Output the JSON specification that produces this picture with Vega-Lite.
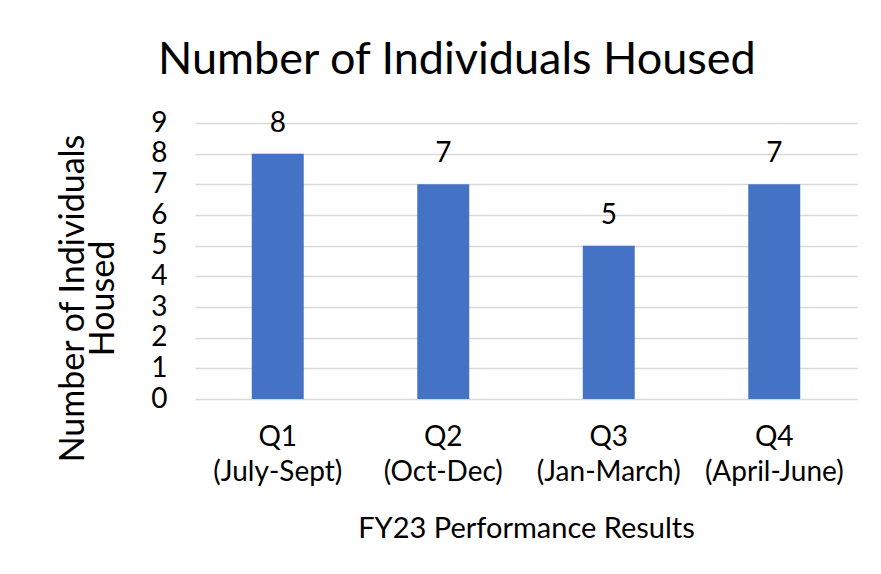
{
  "$schema": "https://vega.github.io/schema/vega-lite/v6.json",
  "autosize": {"type": "none"},
  "width": 662,
  "height": 276,
  "padding": {"left": 195, "top": 123, "right": 24, "bottom": 175},
  "background": "white",
  "title": {
    "text": "Number of Individuals Housed",
    "font": "Lato",
    "fontSize": 45,
    "fontWeight": "normal",
    "color": "#000000",
    "anchor": "middle",
    "frame": "bounds",
    "offset": 26
  },
  "data": {
    "values": [
      {"quarter": "Q1 (July-Sept)", "housed": 8},
      {"quarter": "Q2 (Oct-Dec)", "housed": 7},
      {"quarter": "Q3 (Jan-March)", "housed": 5},
      {"quarter": "Q4 (April-June)", "housed": 7}
    ]
  },
  "encoding": {
    "x": {
      "field": "quarter",
      "type": "nominal",
      "sort": null,
      "scale": {"paddingInner": 0.686, "paddingOuter": 0.343},
      "axis": {
        "title": "FY23 Performance Results",
        "labelAngle": 0,
        "labelExpr": "split(datum.label, ' ')",
        "labelLineHeight": 35,
        "labelPadding": 24,
        "labelBaseline": "top",
        "ticks": false,
        "domain": false,
        "titleFontSize": 29,
        "titlePadding": 28
      }
    },
    "y": {
      "field": "housed",
      "type": "quantitative",
      "scale": {"domain": [0, 9], "nice": false},
      "axis": {
        "title": ["Number of Individuals", "Housed"],
        "titleFontSize": 34,
        "titleLineHeight": 30,
        "titleY": 175,
        "values": [0, 1, 2, 3, 4, 5, 6, 7, 8, 9],
        "labelOverlap": false,
        "labelFlush": false,
        "ticks": false,
        "domain": false,
        "labelPadding": 28,
        "titlePadding": 30
      }
    }
  },
  "layer": [
    {"mark": {"type": "bar", "color": "#4472C4"}},
    {
      "mark": {"type": "text", "baseline": "bottom", "dy": -16, "font": "Lato", "fontSize": 28, "color": "#000000"},
      "encoding": {"text": {"field": "housed", "type": "quantitative"}}
    }
  ],
  "config": {
    "view": {"stroke": null},
    "axis": {
      "labelFont": "Lato",
      "labelFontSize": 28,
      "labelColor": "#000000",
      "titleFont": "Lato",
      "titleFontSize": 28,
      "titleFontWeight": "normal",
      "titleColor": "#000000",
      "gridColor": "#d9d9d9",
      "gridWidth": 1.5
    },
    "axisX": {"grid": false}
  }
}
